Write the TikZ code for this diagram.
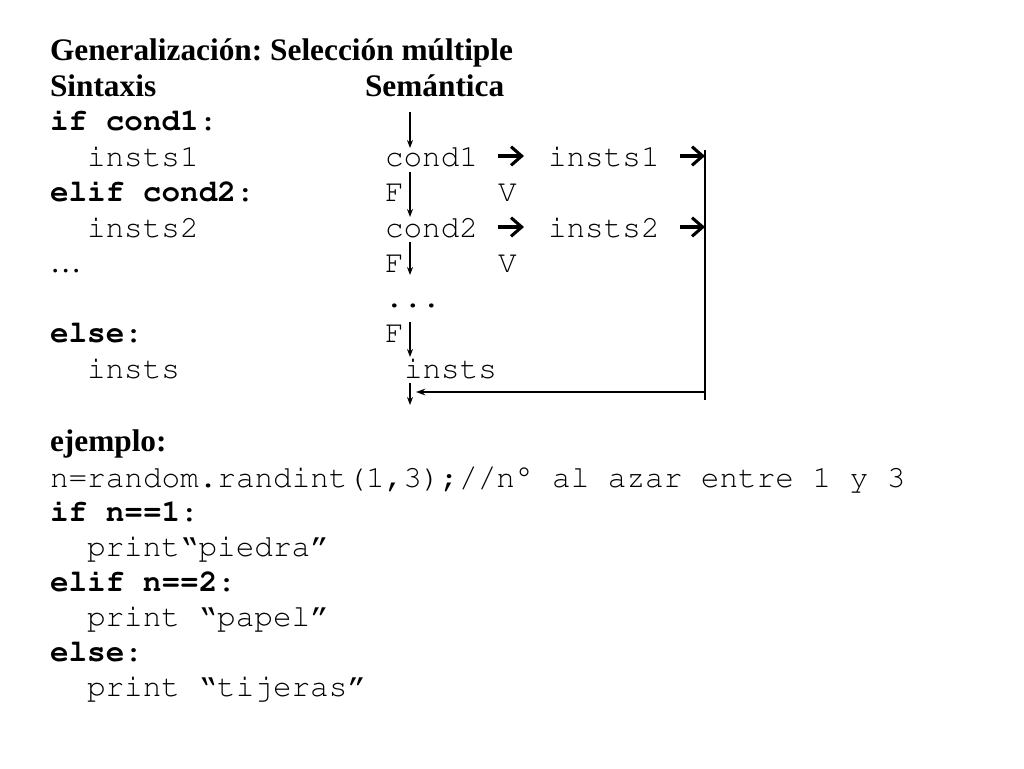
\documentclass[tikz,border=0pt]{standalone}
\usepackage[T1]{fontenc}
\usepackage{fontspec}
\setmainfont{Liberation Serif}
\newcommand\cour{\fontencoding{T1}\fontfamily{pcr}\selectfont}
\usetikzlibrary{arrows.meta}
\frenchspacing
\begin{document}
\begin{tikzpicture}[x=0.75pt,y=-0.75pt,
  code/.style={anchor=base west,inner sep=0pt,outer sep=0pt,font=\cour\fontsize{23.25pt}{26pt}\selectfont},
  head/.style={anchor=base west,inner sep=0pt,outer sep=0pt,font=\bfseries\fontsize{23.5pt}{26pt}\selectfont},
  plain/.style={anchor=base west,inner sep=0pt,outer sep=0pt,font=\fontsize{23.5pt}{26pt}\selectfont},
  down/.style={line width=1.5pt,-{Stealth[length=6pt,width=4.5pt]}},
  wing/.style={line width=2.3pt,-{Straight Barb[length=8pt,width=14pt,line width=2.3pt]}},
  back/.style={line width=1.8pt,-{Stealth[length=7pt,width=5pt]}},
  bar/.style={line width=2.2pt}]
\useasboundingbox (0,0) rectangle (1024,768);
\fill[white] (0,0) rectangle (1024,768);
% headings
\node[head] (title) at (50,60) {Generalización: Selección múltiple};
\node[head] (sint) at (50,96) {Sintaxis};
\node[head] (sem) at (365,96) {Semántica};
% syntax column
\node[code] (l1) at (50,130) {\textbf{if cond1}:};
\node[code] (l2) at (87,166) {insts1};
\node[code] (l3) at (50,201) {\textbf{elif cond2}:};
\node[code] (l4) at (87,237) {insts2};
\node[plain] (l5) at (50,272) {…};
\node[code] (l6) at (50,342) {\textbf{else}:};
\node[code] (l7) at (87,378) {insts};
% semantics column
\node[code] (c1) at (385,166) {cond1};
\node[code] (i1) at (548,166) {insts1};
\node[code] (f1) at (385,201) {F};
\node[code] (v1) at (498,201) {V};
\node[code] (c2) at (385,237) {cond2};
\node[code] (i2) at (548,237) {insts2};
\node[code] (f2) at (385,272) {F};
\node[code] (v2) at (498,272) {V};
\node[code] (dots) at (385,307) {...};
\node[code] (f3) at (385,342) {F};
\node[code] (ie) at (404,378) {insts};
% arrow coordinates
\coordinate (d0) at (410,112);
\coordinate (d1) at (410,148);
\coordinate (d2) at (410,172);
\coordinate (d3) at (410,217);
\coordinate (d4) at (410,242);
\coordinate (d5) at (410,275);
\coordinate (d6) at (410,322);
\coordinate (d7) at (410,357);
\coordinate (d8) at (410,383);
\coordinate (d9) at (410,405);
\coordinate (w1a) at (498,156);
\coordinate (w1b) at (524,156);
\coordinate (w2a) at (680,156);
\coordinate (w2b) at (705,156);
\coordinate (w3a) at (498,227);
\coordinate (w3b) at (524,227);
\coordinate (w4a) at (680,227);
\coordinate (w4b) at (705,227);
\coordinate (vt) at (705,150);
\coordinate (vb) at (705,400);
\coordinate (hb) at (705,392);
\coordinate (he) at (416,392);
\draw[down] (d0) -- (d1);
\draw[down] (d2) -- (d3);
\draw[down] (d4) -- (d5);
\draw[down] (d6) -- (d7);
\draw[down] (d8) -- (d9);
\draw[wing] (w1a) -- (w1b);
\draw[wing] (w2a) -- (w2b);
\draw[wing] (w3a) -- (w3b);
\draw[wing] (w4a) -- (w4b);
\draw[bar] (vt) -- (vb);
\draw[back] (hb) -- (he);
% example
\node[head] (ej) at (50,451) {ejemplo:};
\node[code] (e1) at (50,487) {n=random.randint(1,3);//n\textdegree{} al azar entre 1 y 3};
\node[code] (e2) at (50,521) {\textbf{if n==1}:};
\node[code] (e3) at (87,556) {print\textquotedblleft piedra\textquotedblright};
\node[code] (e4) at (50,591) {\textbf{elif n==2}:};
\node[code] (e5) at (87,626) {print \textquotedblleft papel\textquotedblright};
\node[code] (e6) at (50,661) {\textbf{else}:};
\node[code] (e7) at (87,696) {print \textquotedblleft tijeras\textquotedblright};
\end{tikzpicture}
\end{document}
